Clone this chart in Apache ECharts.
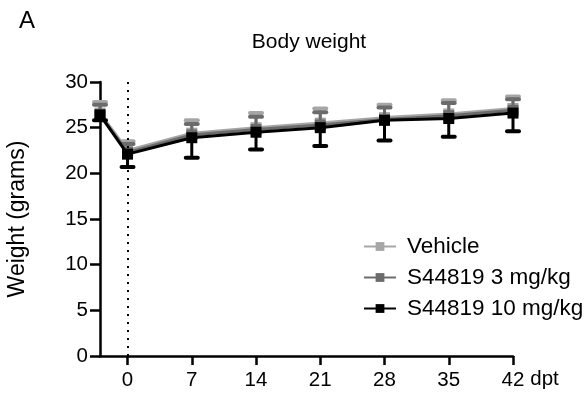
<!DOCTYPE html>
<html>
<head>
<meta charset="utf-8">
<script src="https://cdn.jsdelivr.net/npm/echarts@6/dist/echarts.min.js"></script>
<style>
html,body{margin:0;padding:0;background:#fff;}
#c{width:586px;height:395px;}
</style>
</head>
<body>
<div id="c"></div>
<script>
// Data (days post treatment)
const days = [-3, 0, 7, 14, 21, 28, 35, 42];
const xTicks = [0, 7, 14, 21, 28, 35, 42];
const vehicleMean = [26.6, 22.5, 24.4, 25.0, 25.5, 26.1, 26.5, 27.1];
const vehicleSD   = [1.2, 1.0, 1.4, 1.6, 1.6, 1.4, 1.5, 1.3];
const dose3Mean   = [26.4, 22.3, 24.2, 24.8, 25.3, 25.9, 26.3, 26.9];
const dose3SD     = [1.1, 0.9, 1.2, 1.4, 1.4, 1.3, 1.4, 1.2];
const dose10Mean  = [26.4, 22.1, 23.9, 24.5, 25.0, 25.8, 26.0, 26.6];
const dose10SD    = [0.6, 1.4, 2.2, 1.9, 2.0, 2.2, 2.0, 2.0];
const seriesNames = ['Vehicle', 'S44819 3 mg/kg', 'S44819 10 mg/kg'];
const colors = ['#a6a6a6', '#6b6b6b', '#000000'];

const FONT = '"Liberation Sans", Arial, Helvetica, sans-serif';

function pts(mean){ return days.map((d,i)=>[d, mean[i]]); }
function errData(mean, sd, dir){
  return days.map((d,i)=> dir > 0 ? [d, mean[i], mean[i]+sd[i]] : [d, mean[i], mean[i]-sd[i]]);
}
function errSeries(mean, sd, dir, color, z){
  return {
    type: 'custom',
    silent: true,
    z: z,
    data: errData(mean, sd, dir),
    encode: { x: 0, y: [1, 2] },
    renderItem: function(params, api){
      const x = api.value(0);
      const p0 = api.coord([x, api.value(1)]);
      const p1 = api.coord([x, api.value(2)]);
      const hw = 6;
      return {
        type: 'group',
        children: [
          { type: 'line', shape: { x1: p0[0], y1: p0[1], x2: p1[0], y2: p1[1] },
            style: { stroke: color, lineWidth: 3 } },
          { type: 'line', shape: { x1: p1[0]-hw, y1: p1[1], x2: p1[0]+hw, y2: p1[1] },
            style: { stroke: color, lineWidth: 4, lineCap: 'round' } }
        ]
      };
    }
  };
}
function lineSeries(name, mean, color, z, extra){
  return Object.assign({
    name: name,
    type: 'line',
    z: z,
    data: pts(mean),
    symbol: 'rect',
    symbolSize: 11,
    showAllSymbol: true,
    lineStyle: { color: color, width: 3 },
    itemStyle: { color: color },
    emphasis: { disabled: true },
    animation: false
  }, extra || {});
}

const chart = echarts.init(document.getElementById('c'), null, { renderer: 'canvas' });
chart.setOption({
  animation: false,
  backgroundColor: '#fff',
  title: [
    { text: 'A', left: 14, top: 4, textStyle: { fontFamily: FONT, fontSize: 24, fontWeight: 'normal', color: '#000' } },
    { text: 'Body weight', left: 304, textAlign: 'center', top: 27, textStyle: { fontFamily: FONT, fontSize: 21, fontWeight: 'normal', color: '#000' } }
  ],
  legend: {
    orient: 'vertical',
    left: 358,
    top: 230,
    itemWidth: 32,
    itemHeight: 11,
    itemGap: 8,
    data: seriesNames,
    textStyle: { fontFamily: FONT, fontSize: 22.5, color: '#000', padding: [0,0,0,6] }
  },
  grid: { left: 100, right: 73, top: 82, bottom: 39, outerBoundsMode: 'none' },
  xAxis: {
    type: 'value',
    min: -3,
    max: 42,
    name: 'dpt',
    nameLocation: 'end',
    nameGap: 16,
    nameTextStyle: { fontFamily: FONT, fontSize: 20.5, color: '#000', verticalAlign: 'top', padding: [13,0,0,0] },
    axisLine: { show: true, onZero: false, lineStyle: { color: '#000', width: 2.5 } },
    axisTick: { show: true, customValues: xTicks, length: 9, lineStyle: { color: '#000', width: 2.5 } },
    axisLabel: { customValues: xTicks, margin: 14, fontFamily: FONT, fontSize: 20.5, color: '#000' },
    splitLine: { show: false }
  },
  yAxis: {
    type: 'value',
    min: 0,
    max: 30,
    interval: 5,
    name: 'Weight (grams)',
    nameLocation: 'middle',
    nameGap: 71,
    nameTextStyle: { fontFamily: FONT, fontSize: 23, color: '#000' },
    axisLine: { show: true, onZero: false, lineStyle: { color: '#000', width: 2.5 } },
    axisTick: { show: true, length: 10, lineStyle: { color: '#000', width: 2.5 } },
    axisLabel: { margin: 12, fontFamily: FONT, fontSize: 20.5, color: '#000' },
    splitLine: { show: false }
  },
  series: [
    errSeries(vehicleMean, vehicleSD, 1, colors[0], 1),
    lineSeries(seriesNames[0], vehicleMean, colors[0], 2, {
      markLine: {
        silent: true,
        symbol: 'none',
        label: { show: false },
        lineStyle: { color: '#000', type: [2, 6], width: 2 },
        data: [{ xAxis: 0 }]
      }
    }),
    errSeries(dose3Mean, dose3SD, 1, colors[1], 3),
    lineSeries(seriesNames[1], dose3Mean, colors[1], 4),
    errSeries(dose10Mean, dose10SD, -1, colors[2], 5),
    lineSeries(seriesNames[2], dose10Mean, colors[2], 6)
  ]
});
</script>
</body>
</html>
